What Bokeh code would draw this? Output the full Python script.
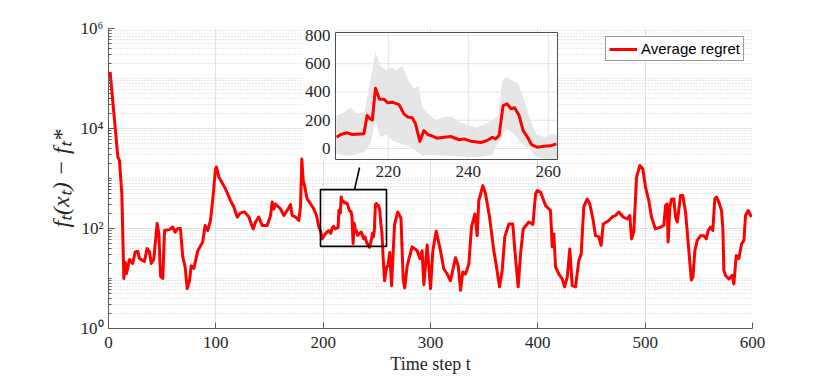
from bokeh.plotting import figure
from bokeh.models import Range1d, LinearScale, FixedTicker
from bokeh.core.properties import value
from bokeh.embed import file_html
from bokeh.resources import INLINE

# ---------------- data ----------------
T = [1.5, 8.7, 10.2, 12.4, 14.3, 15.8, 16.8, 19.6, 22.6, 24.9, 27.3, 28.9, 33.5, 36.0, 38.2, 39.8,
     42.2, 45.3, 46.9, 48.5, 50.6, 52.2, 56.8, 59.9, 62.1, 64.6, 67.0, 69.2, 71.4, 73.3, 75.5, 77.0,
     79.5, 83.2, 87.8, 90.0, 92.5, 95.0, 97.2, 99.7, 100.6, 102.8, 109.0, 113.7, 116.8, 119.9, 123.0,
     126.7, 130.8, 133.0, 134.8, 137.0, 140.0, 143.2, 147.8, 151.0, 152.5, 154.0, 155.6, 160.3, 163.4,
     166.5, 169.6, 171.1, 174.2, 177.3, 178.9, 180.1, 181.4, 182.6, 185.1, 188.2, 191.3, 193.8, 196.0,
     197.5, 199.0, 202.0, 205.0,
     207.1, 208.1, 209.7, 211.0, 213.9, 214.7, 215.4, 216.0, 216.8, 217.8, 218.9, 219.9, 221.0, 222.7,
     223.9, 224.9, 226.0, 226.8, 227.9, 228.9, 229.9, 230.7, 232.1, 233.9, 235.6, 237.7, 238.9, 240.6,
     243.1, 244.7, 246.0, 246.8, 247.7, 248.7, 249.7, 250.7, 251.6, 252.7, 253.7, 254.8, 255.8, 257.2,
     258.9, 260.5, 262.0,
     263.7, 266.5, 269.5, 272.5, 274.6, 276.0, 278.3, 282.9, 287.6, 290.0, 292.2, 293.8, 296.9, 300.0,
     302.2, 305.3, 309.3, 312.4, 315.6, 318.6, 323.3, 325.8, 328.0, 330.1, 332.6, 335.7, 338.2, 341.3,
     343.5, 345.0, 348.8, 351.3, 355.0, 359.0, 361.5, 364.3, 366.8, 369.2, 373.0, 376.7, 378.6, 381.7,
     383.9, 386.4, 391.6, 395.4, 397.9, 399.4, 402.5, 407.2, 411.8, 413.4, 414.9, 416.5, 419.6, 422.7,
     424.9, 427.4, 429.8, 432.0, 435.1, 438.2, 440.4, 442.8, 446.0, 448.4, 451.6, 453.7, 456.8, 459.0,
     460.9, 464.0, 466.2, 469.3, 472.4, 475.5, 479.5, 483.3, 485.7, 487.3, 489.4, 492.0, 495.0, 497.8,
     500.3, 503.4, 505.9, 509.6, 514.3, 517.4, 519.0, 520.5, 521.4, 523.0, 524.6, 526.7, 528.3, 529.9,
     533.0, 535.1, 537.6, 540.7, 543.0, 544.5, 546.3, 548.5, 551.6, 554.7, 556.9, 558.7, 560.9, 563.0,
     564.9, 566.4, 568.6, 571.1, 572.4, 573.3, 574.9, 578.0, 581.1, 582.6, 584.9, 587.3, 589.8, 592.0,
     593.5, 596.0, 599.0]
REGRET = [135000, 2700, 2300, 500, 10, 21, 12.6, 24, 20, 34, 35, 25, 22, 40, 34, 20,
          24, 126, 79, 11, 10, 91, 95, 107, 85, 100, 100, 27, 17, 6.3, 9, 18,
          16, 36, 54, 115, 91, 145, 390, 1550, 1700, 1070, 620, 360, 270, 170, 205,
          215, 170, 123, 98, 135, 170, 115, 115, 182, 340, 245, 310, 245, 182,
          230, 300, 182, 170, 145, 270, 2450, 910, 720, 390, 310, 245, 182, 107,
          91, 62, 78, 91,
          80, 99, 111, 99, 104, 233, 210, 203, 427, 349, 349, 323, 328, 311,
          245, 222, 217, 175, 50, 127, 97, 92, 73, 80, 85, 62, 68, 52,
          42, 57, 80, 68, 92, 304, 316, 281, 288, 233, 127, 80, 28, 9,
          16, 19, 33,
          7.2, 120, 214, 160, 9, 6.5, 18, 43, 36, 25, 36, 7.5, 47, 6.3,
          36, 89, 36, 15.5, 12.3, 9, 26, 18, 5.8, 13.5, 12.3, 19.5, 107, 195,
          72, 363, 720, 490, 170, 36, 17, 6.8, 14.5, 68, 123, 123, 36, 6.8,
          31, 98, 135, 120, 490, 575, 537, 288, 229, 43, 78, 17, 12.3, 9.8,
          6.8, 10.7, 39, 7.2, 6.8, 23, 31, 270, 390, 310, 145, 72, 68, 46,
          123, 135, 145, 170, 182, 214, 170, 155, 182, 62, 85, 1070, 1820, 1550,
          676, 363, 170, 98, 107, 115, 288, 310, 54, 270, 390, 390, 170, 135,
          457, 457, 214, 36, 9.3, 10.7, 36, 58, 72, 72, 62, 91, 107, 91,
          390, 427, 339, 229, 98, 14.5, 11.5, 9.8, 11.5, 7.8, 29, 25, 49, 58,
          182, 229, 170]

BAND_T = [207.0, 209.0, 210.5, 212.0, 214.0, 215.5, 216.8, 218.0, 219.5, 221.0, 222.0, 223.5,
          225.0, 226.5, 227.5, 228.5, 230.0, 232.0, 234.0, 236.0, 238.0, 240.0, 242.0, 244.0,
          246.0, 247.5, 248.5, 249.5, 251.0, 252.5, 254.0, 255.5, 257.0, 259.0, 261.0, 262.3]
BAND_UPPER = [233, 257, 288, 250, 257, 481, 682, 587, 552, 575, 552, 587,
              481, 422, 446, 292, 245, 198, 226, 222, 186, 163, 151, 170,
              198, 233, 481, 505, 481, 458, 340, 198, 104, 80, 104, 92]
BAND_LOWER = [-38, -48, -50, -42, -25, 33, 198, 80, 100, 55, 45, 28,
              15, -5, -30, -50, -45, -48, -50, -53, -57, -60, -62, -55,
              -45, 40, 90, 139, 115, 65, 20, -10, -62, -72, -75, -75]

X_TICKS = [0, 100, 200, 300, 400, 500, 600]
Y_TICKS = [1, 100, 10000, 1000000]
Y_TICK_LABELS = ["10⁰", "10²", "10⁴", "10⁶"]
INSET_X_TICKS = [220, 240, 260]
INSET_Y_TICKS = [0, 200, 400, 600, 800]

ZOOM_T = (197.5, 259.0)      # zoomed region shown by the box
ZOOM_V = (44, 600)
CONNECT_T = (229.2, 233.9)   # connector from box to inset
CONNECT_V = (600, 1660)

INSET_X_RANGE = (206.8, 262.3)
INSET_Y_RANGE = (-77.9, 821.2)

# ---------------- layout / style ----------------
FRAME_W, FRAME_H = 644, 300
# inset box as fractions of the main frame (left, right, bottom, top)
IN_L, IN_R, IN_B, IN_T = 0.3525, 0.6972, 0.5633, 0.9867
RED = "#ff0000"
SERIF = "Liberation Serif"

p = figure(frame_width=FRAME_W, frame_height=FRAME_H,
           min_border_left=108, min_border_right=70, min_border_top=28, min_border_bottom=50,
           x_range=Range1d(0, 600), y_range=Range1d(1, 1e6), y_axis_type="log",
           output_backend="svg", toolbar_location=None)
p.outline_line_color = None
p.background_fill_color = "white"

# extended ranges so the inset data map into the inset box of the frame
xs = (INSET_X_RANGE[1] - INSET_X_RANGE[0]) / (IN_R - IN_L)
x0 = INSET_X_RANGE[0] - IN_L * xs
ys = (INSET_Y_RANGE[1] - INSET_Y_RANGE[0]) / (IN_T - IN_B)
y0 = INSET_Y_RANGE[0] - IN_B * ys
p.extra_x_ranges = {"ix": Range1d(x0, x0 + xs)}
p.extra_y_ranges = {"iy": Range1d(y0, y0 + ys)}
p.extra_x_scales = {"ix": LinearScale()}
p.extra_y_scales = {"iy": LinearScale()}

# axes
p.xaxis.ticker = FixedTicker(ticks=X_TICKS)
p.yaxis.ticker = FixedTicker(ticks=Y_TICKS,
                             minor_ticks=[m * 10 ** k for k in range(0, 6) for m in range(1, 10)])
p.yaxis.major_label_overrides = dict(zip(Y_TICKS, Y_TICK_LABELS))
for ax in (p.xaxis[0], p.yaxis[0]):
    ax.axis_line_color = "#5a5a5a"
    ax.major_tick_line_color = "#5a5a5a"
    ax.minor_tick_line_color = "#5a5a5a"
    ax.major_tick_in = 6
    ax.major_tick_out = 0
    ax.minor_tick_in = 3
    ax.minor_tick_out = 0
    ax.major_label_text_font = SERIF
    ax.major_label_text_font_size = "17px"
    ax.major_label_text_color = "#262626"
    ax.axis_label_text_font = SERIF
    ax.axis_label_text_color = "#262626"
    ax.axis_label_text_font_style = "normal"
p.xaxis.minor_tick_line_color = None
p.xaxis.major_label_standoff = 8
p.yaxis.major_label_standoff = 5
p.xaxis.axis_label = "Time step t"
p.xaxis.axis_label_text_font_size = "18px"
p.xaxis.axis_label_standoff = 3
p.yaxis.axis_label = "fₜ(xₜ) − fₜ*"
p.yaxis.axis_label_text_font_size = "24px"
p.yaxis.axis_label_text_font_style = "italic"
p.yaxis.axis_label_standoff = 4

# grids
p.xgrid.grid_line_color = "#e3e3e3"
p.ygrid.grid_line_color = "#e3e3e3"
p.ygrid.minor_grid_line_color = "#d4d4d4"
p.ygrid.minor_grid_line_dash = "1 2"
p.ygrid.minor_grid_line_width = 1

# main curve
p.line(T, REGRET, line_color=RED, line_width=3, line_join="round", legend_label="Average regret")

# zoom box and connector
p.quad(left=[ZOOM_T[0]], right=[ZOOM_T[1]], bottom=[ZOOM_V[0]], top=[ZOOM_V[1]],
       fill_color=None, line_color="black", line_width=1.6)
p.segment(x0=[CONNECT_T[0]], y0=[CONNECT_V[0]], x1=[CONNECT_T[1]], y1=[CONNECT_V[1]],
          line_color="black", line_width=1.6)

# ---------------- inset ----------------
IR = dict(x_range_name="ix", y_range_name="iy")
px_x = xs / FRAME_W  # inset x units per screen pixel
p.quad(left=[INSET_X_RANGE[0] - 32 * px_x], right=[INSET_X_RANGE[1]],
       bottom=[INSET_Y_RANGE[0]], top=[INSET_Y_RANGE[1]],
       fill_color="white", line_color=None, **IR)
p.segment(x0=INSET_X_TICKS, x1=INSET_X_TICKS,
          y0=[INSET_Y_RANGE[0]] * len(INSET_X_TICKS), y1=[INSET_Y_RANGE[1]] * len(INSET_X_TICKS),
          line_color="#e3e3e3", line_width=1, **IR)
p.segment(y0=INSET_Y_TICKS, y1=INSET_Y_TICKS,
          x0=[INSET_X_RANGE[0]] * len(INSET_Y_TICKS), x1=[INSET_X_RANGE[1]] * len(INSET_Y_TICKS),
          line_color="#e3e3e3", line_width=1, **IR)
p.varea(x=BAND_T, y1=BAND_LOWER, y2=BAND_UPPER, fill_color="#e6e6e6", fill_alpha=1.0, **IR)
sel = [(t, v) for t, v in zip(T, REGRET) if INSET_X_RANGE[0] <= t <= INSET_X_RANGE[1]]
p.line([s[0] for s in sel], [s[1] for s in sel], line_color=RED, line_width=3,
       line_join="round", **IR)
p.quad(left=[INSET_X_RANGE[0]], right=[INSET_X_RANGE[1]],
       bottom=[INSET_Y_RANGE[0]], top=[INSET_Y_RANGE[1]],
       fill_color=None, line_color="#4d4d4d", line_width=1, **IR)
p.text(x=[INSET_X_RANGE[0]] * len(INSET_Y_TICKS), y=INSET_Y_TICKS,
       text=[str(v) for v in INSET_Y_TICKS], text_align="right", text_baseline="middle",
       x_offset=-5, text_font=value(SERIF), text_font_size="17px", text_color="#262626", **IR)
p.text(x=INSET_X_TICKS, y=[INSET_Y_RANGE[0]] * len(INSET_X_TICKS),
       text=[str(v) for v in INSET_X_TICKS], text_align="center", text_baseline="top",
       y_offset=6, text_font=value(SERIF), text_font_size="17px", text_color="#262626", **IR)

# legend
lg = p.legend[0]
lg.location = "top_right"
lg.margin = 8
lg.padding = 3
lg.spacing = 0
lg.glyph_width = 28
lg.glyph_height = 16
lg.label_standoff = 4
lg.label_text_font = "Liberation Sans"
lg.label_text_font_size = "15px"
lg.label_text_color = "black"
lg.border_line_color = "#333333"
lg.border_line_width = 1
lg.background_fill_alpha = 1.0

open("out.html", "w").write(file_html(p, INLINE))
